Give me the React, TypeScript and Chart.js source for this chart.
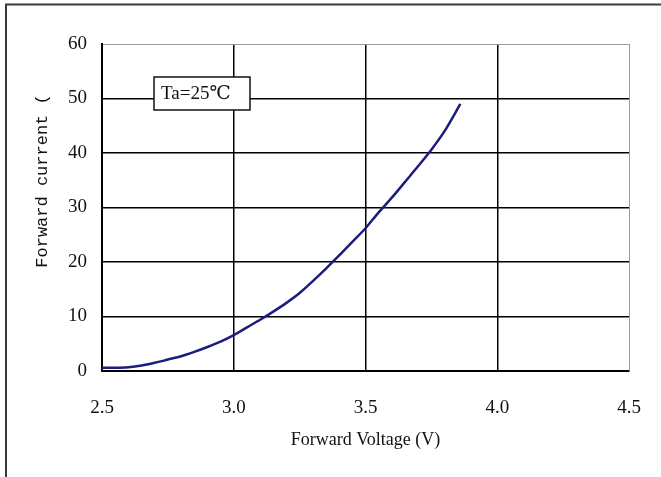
import React, { useEffect, useRef } from "react";
import { Chart, registerables } from "chart.js";

Chart.register(...registerables);

const voltage: number[] = [2.5, 2.55, 2.6, 2.65, 2.7, 2.75, 2.8, 2.85, 2.9, 2.95, 3.0, 3.05, 3.1, 3.15, 3.2, 3.25, 3.3, 3.35, 3.4, 3.45, 3.5, 3.55, 3.6, 3.65, 3.7, 3.75, 3.8, 3.86];
const current: number[] = [0.6, 0.6, 0.7, 1.0, 1.5, 2.1, 2.7, 3.5, 4.4, 5.4, 6.6, 8.0, 9.4, 10.9, 12.5, 14.3, 16.5, 18.8, 21.2, 23.7, 26.2, 29.1, 31.8, 34.7, 37.6, 40.6, 44.0, 49.0];
const xTitle = "Forward Voltage (V)";
const yTitle = "Forward current (";
const annotationText = "Ta=25℃";

const SERIF = "'Liberation Serif', 'DejaVu Serif', serif";

const decorPlugin = {
  id: "decor",
  afterDraw(chart: any) {
    const ctx = chart.ctx as CanvasRenderingContext2D;
    const { chartArea } = chart;
    ctx.save();
    // outer frame (top and left visible)
    ctx.strokeStyle = "#3a3a3a";
    ctx.lineWidth = 2;
    ctx.beginPath();
    ctx.moveTo(661, 4.5);
    ctx.lineTo(6, 4.5);
    ctx.lineTo(6, 477);
    ctx.stroke();

    // annotation box
    const bx = 154, by = 77, bw = 96, bh = 33;
    ctx.fillStyle = "#fff";
    ctx.fillRect(bx, by, bw, bh);
    ctx.strokeStyle = "#111";
    ctx.lineWidth = 1.5;
    ctx.strokeRect(bx, by, bw, bh);
    ctx.fillStyle = "#111";
    ctx.font = `19px ${SERIF}`;
    ctx.textBaseline = "middle";
    ctx.textAlign = "left";
    ctx.fillText(annotationText, bx + 7, by + bh / 2 + 1);

    // x title
    ctx.textAlign = "center";
    ctx.font = `18px ${SERIF}`;
    ctx.fillText(xTitle, (chartArea.left + chartArea.right) / 2, 440);

    // y title
    ctx.translate(42, 181);
    ctx.rotate(-Math.PI / 2);
    ctx.font = `17px 'Liberation Mono', 'DejaVu Sans Mono', monospace`;
    ctx.fillText(yTitle, 0, 0);
    ctx.restore();
  },
};

export default function App() {
  const ref = useRef<HTMLCanvasElement>(null);
  useEffect(() => {
    document.body.style.margin = "0";
    document.body.style.background = "#fff";
    const canvas = ref.current!;
    const chart = new Chart(canvas, {
      type: "line",
      data: {
        datasets: [
          {
            data: voltage.map((v, i) => ({ x: v, y: current[i] })),
            borderColor: "#1c1c7c",
            borderWidth: 2.5,
            pointRadius: 0,
            tension: 0.3,
            fill: false,
          },
        ],
      },
      options: {
        animation: false,
        responsive: false,
        maintainAspectRatio: false,
        layout: { padding: { left: 0, top: 44, right: 32, bottom: 0 } },
        plugins: { legend: { display: false }, tooltip: { enabled: false } },
        scales: {
          x: {
            type: "linear",
            min: 2.5,
            max: 4.5,
            afterFit: (s: any) => {
              s.height = 106;
              s.paddingLeft = 0;
              s.paddingRight = 0;
            },
            ticks: {
              stepSize: 0.5,
              padding: 26,
              color: "#111",
              font: { family: SERIF, size: 19 },
              callback: (v: any) => Number(v).toFixed(1),
            },
            grid: {
              drawTicks: false,
              color: (c: any) => (c.index === 4 ? "#999" : "#000"),
              lineWidth: (c: any) => (c.index === 4 ? 1 : 1.5),
            },
            border: { color: "#000", width: 2 },
          },
          y: {
            type: "linear",
            min: 0,
            max: 60,
            afterFit: (s: any) => {
              s.width = 102;
              s.paddingTop = 0;
              s.paddingBottom = 0;
            },
            ticks: {
              stepSize: 10,
              padding: 15,
              color: "#111",
              font: { family: SERIF, size: 19 },
            },
            grid: {
              drawTicks: false,
              color: (c: any) => (c.index === 6 ? "#999" : "#000"),
              lineWidth: (c: any) => (c.index === 6 ? 1 : 1.5),
            },
            border: { color: "#000", width: 2 },
          },
        },
      },
      plugins: [decorPlugin],
    });
    return () => chart.destroy();
  }, []);
  return (
    <div style={{ width: 661, height: 477, position: "relative" }}>
      <canvas ref={ref} width={661} height={477} style={{ width: 661, height: 477, display: "block" }} />
    </div>
  );
}
